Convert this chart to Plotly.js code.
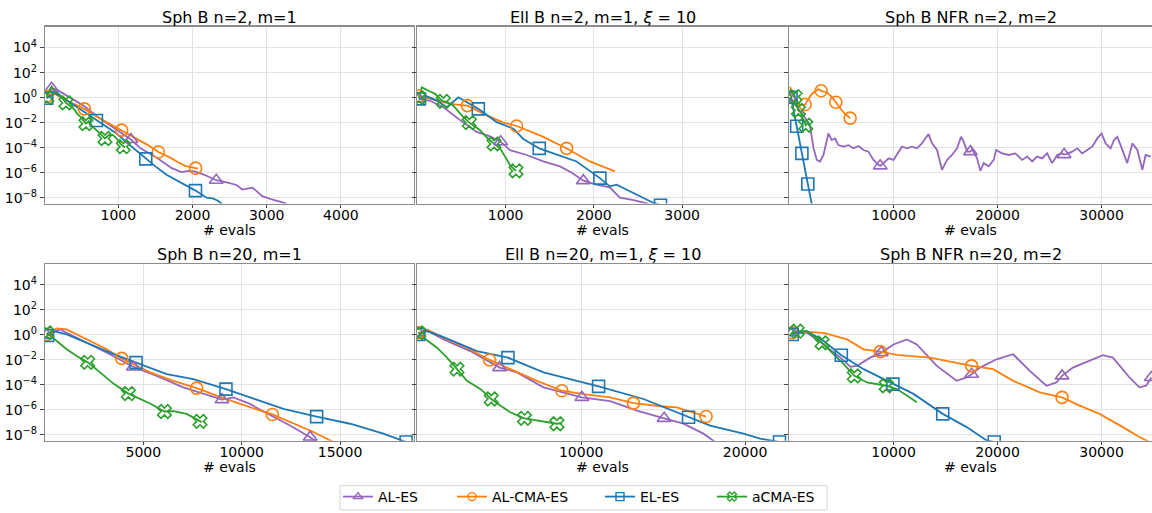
<!DOCTYPE html>
<html><head><meta charset="utf-8">
<script src="https://cdn.plot.ly/plotly-3.0.1.min.js"></script>
<style>html,body{margin:0;padding:0;background:#fff}#chart{width:1152px;height:513px}</style>
</head><body><div id="chart"></div>
<script>
// ---------- labels ----------
const seriesNames = ['AL-ES', 'AL-CMA-ES', 'EL-ES', 'aCMA-ES'];
const panelTitles = ['Sph B n=2, m=1', 'Ell B n=2, m=1, <i>ξ</i> = 10', 'Sph B NFR n=2, m=2',
                     'Sph B n=20, m=1', 'Ell B n=20, m=1, <i>ξ</i> = 10', 'Sph B NFR n=20, m=2'];
const xLabel = '# evals';
const yTickVals = [1e-8, 1e-6, 1e-4, 1e-2, 1e0, 1e2, 1e4];
const yTickText = ['10<sup>−8</sup>', '10<sup>−6</sup>', '10<sup>−4</sup>', '10<sup>−2</sup>', '10<sup>0</sup>', '10<sup>2</sup>', '10<sup>4</sup>'];
const xTicks1 = [1000, 2000, 3000, 4000];
const xTicks2 = [1000, 2000, 3000];
const xTicks3 = [10000, 20000, 30000];
const xTicks4 = [5000, 10000, 15000];
const xTicks5 = [10000, 20000];
const xTicks6 = [10000, 20000, 30000];

// ---------- Panel 1: Sph B n=2, m=1 ----------
const p1_AL_x = [35, 101, 170, 300, 530, 755, 980, 1170, 1300, 1530, 1720, 1850, 1950, 2030, 2160, 2320, 2490, 2600, 2670, 2810, 2940, 3070, 3200, 3270];
const p1_AL_y = [1, 5.6, 4.3, 1.45, 0.23, 0.021, 2.5e-3, 4.5e-4, 8.9e-5, 1.4e-5, 2.3e-6, 1.1e-6, 1.4e-6, 1.26e-6, 6.8e-7, 2.5e-7, 1.5e-7, 1e-7, 4.5e-8, 6.3e-8, 1.35e-8, 7.2e-9, 4.5e-9, 3.2e-9];
const p1_AL_mk = [1, 7, 15];
const p1_CMA_x = [35, 100, 146, 200, 300, 400, 542, 700, 850, 1045, 1200, 1400, 1539, 1700, 1800, 1900, 2042, 2075];
const p1_CMA_y = [1.26, 1.8, 1.95, 1.26, 0.56, 0.32, 0.126, 0.032, 0.01, 2.5e-3, 7.1e-4, 1.6e-4, 4.5e-5, 1.6e-5, 7.1e-6, 3.5e-6, 2.3e-6, 2.2e-6];
const p1_CMA_mk = [0, 6, 9, 12, 16];
const p1_EL_x = [35, 140, 250, 400, 550, 705, 850, 977, 1150, 1370, 1500, 1650, 1850, 2040, 2190, 2270, 2330, 2400];
const p1_EL_y = [0.89, 2.5, 1.0, 0.25, 0.063, 0.015, 4.5e-3, 1.35e-3, 1.7e-4, 1.26e-5, 3.2e-6, 6.8e-7, 1.6e-7, 3.7e-8, 1e-8, 8.9e-9, 6.3e-9, 3.2e-9];
const p1_EL_mk = [0, 5, 9, 13];
const p1_aCMA_x = [35, 60, 101, 130, 180, 230, 295, 340, 400, 450, 500, 564, 600, 650, 708, 760, 820, 870, 930, 980, 1030, 1067, 1090];
const p1_aCMA_y = [1.0, 3.2, 7.9, 4.0, 2.5, 1.26, 0.38, 0.25, 0.126, 0.05, 0.025, 8.3e-3, 0.0126, 5e-3, 2.5e-3, 1.26e-3, 5.4e-4, 1e-3, 1e-3, 5e-4, 2e-4, 1.2e-4, 1e-4];
const p1_aCMA_mk = [0, 6, 11, 16, 21];

// ---------- Panel 2: Ell B n=2, m=1 ----------
const p2_AL_x = [15, 144, 294, 483, 672, 823, 943, 1049, 1238, 1427, 1615, 1750, 1880, 2030, 2180, 2294, 2450, 2560, 2620];
const p2_AL_y = [0.79, 0.56, 0.17, 0.016, 1.8e-3, 7.9e-4, 3.0e-4, 6.3e-5, 2.6e-5, 7.9e-6, 3.2e-6, 1e-6, 2.3e-7, 1.1e-7, 6.8e-8, 1e-8, 6.3e-9, 4e-9, 3.2e-9];
const p2_AL_mk = [0, 6, 12];
const p2_CMA_x = [15, 144, 370, 566, 785, 974, 1124, 1427, 1691, 1955, 2106, 2238];
const p2_CMA_y = [1.41, 0.79, 0.32, 0.23, 0.038, 0.01, 5.4e-3, 7.2e-4, 8.7e-5, 7.9e-6, 3.2e-6, 1.26e-6];
const p2_CMA_mk = [0, 3, 6, 8];
const p2_EL_x = [22, 87, 219, 332, 464, 558, 690, 898, 1087, 1200, 1381, 1540, 1804, 2068, 2181, 2257, 2483, 2672, 2755];
const p2_EL_y = [0.79, 1.45, 0.58, 0.17, 1.07, 0.43, 0.126, 0.011, 3.3e-3, 5e-4, 8.7e-5, 3.5e-5, 7.9e-6, 3.7e-7, 8.1e-8, 1.1e-7, 1.8e-8, 4e-9, 2.5e-9];
const p2_EL_mk = [0, 6, 10, 13, 18];
const p2_aCMA_x = [15, 50, 125, 200, 257, 294, 350, 407, 500, 588, 650, 710, 800, 868, 936, 1000, 1049, 1117];
const p2_aCMA_y = [1.0, 6.6, 3.5, 2.0, 0.79, 0.5, 0.4, 0.23, 0.04, 0.01, 5e-3, 2.5e-3, 5e-4, 2e-4, 8.9e-5, 1.6e-5, 4e-6, 1.4e-6];
const p2_aCMA_mk = [0, 5, 9, 13, 17];

// ---------- Panel 3: Sph B NFR n=2, m=2 ----------
const p3_AL_x = [33, 500, 1000, 1500, 1980, 2300, 2620, 2940, 3260, 3500, 3740, 4060, 4380, 4700, 5190, 5670, 6150, 6630, 7110, 7590, 8070, 8560, 8720, 9040, 9520, 10000, 10480, 10810, 11290, 11770, 12250, 12730, 13050, 13370, 13700, 14180, 14660, 15140, 15620, 16110, 16490, 16740, 17070, 17390, 17550, 18030, 18350, 18670, 19150, 19630, 19860, 20440, 21070, 21720, 22360, 22850, 23330, 23810, 24290, 24770, 25250, 25740, 26220, 26400, 26700, 27180, 27660, 28140, 28620, 29100, 29590, 30000, 30390, 30870, 31190, 31510, 31830, 32150, 32470, 32960, 33440, 33920, 34240, 34720];
const p3_AL_y = [1, 0.32, 0.1, 0.025, 4.6e-3, 1e-4, 1.05e-5, 7.9e-6, 2.6e-5, 2.5e-4, 1.35e-3, 4e-4, 5.4e-4, 1.6e-4, 1.2e-4, 1.6e-4, 8.9e-5, 1.35e-4, 6.5e-5, 4.8e-5, 1.05e-5, 4.2e-6, 3.5e-6, 5.8e-6, 1.4e-5, 1.05e-5, 4.8e-5, 1.2e-4, 8.9e-5, 1.2e-4, 8.9e-5, 2.2e-4, 5.5e-4, 1.2e-3, 2.2e-4, 6.5e-5, 1.7e-6, 1.05e-5, 2.6e-5, 8.9e-5, 7.4e-4, 3e-4, 4.8e-5, 4.8e-5, 7.4e-5, 1.4e-5, 1.4e-6, 5.8e-6, 3.2e-6, 1.05e-5, 6.5e-5, 3.5e-5, 2.6e-5, 3.5e-5, 1.05e-5, 1.95e-5, 7.9e-6, 1.95e-5, 1.4e-5, 3.5e-5, 5.8e-6, 2.6e-5, 3.5e-5, 2.8e-5, 3.2e-5, 4.8e-5, 8.9e-5, 3.5e-5, 6.5e-5, 1.2e-4, 5.5e-4, 1.35e-3, 2.2e-4, 8.9e-5, 4e-4, 7.4e-4, 1.6e-4, 3.5e-5, 5.8e-6, 2.2e-4, 6.5e-5, 1.7e-6, 2.6e-5, 1.95e-5];
const p3_AL_mk = [0, 22, 43, 63];
const p3_CMA_x = [50, 275, 700, 1030, 1500, 2140, 2780, 3040, 3580, 4000, 4450, 5030, 5350, 5830];
const p3_CMA_y = [7.4, 1.95, 0.5, 0.25, 0.28, 1.95, 4.9, 3.5, 2.6, 1.26, 0.43, 0.093, 0.051, 0.023];
const p3_CMA_mk = [4, 7, 10, 13];
const p3_EL_x = [150, 688, 1190, 1760, 2140];
const p3_EL_y = [1.07, 5.1e-3, 3.5e-5, 1.26e-7, 2.9e-9];
const p3_EL_mk = [0, 1, 2, 3];
const p3_aCMA_x = [50, 300, 530, 700, 850, 1100, 1300, 1560, 1800, 1980];
const p3_aCMA_y = [2.0, 3.2, 1.2, 0.4, 0.093, 0.063, 0.016, 6.2e-3, 0.01, 4.6e-3];
const p3_aCMA_mk = [2, 4, 7];

// ---------- Panel 4: Sph B n=20, m=1 ----------
const p4_AL_x = [85, 760, 1950, 3300, 4490, 5680, 7030, 8050, 9000, 9580, 10420, 11270, 12460, 13480, 13820];
const p4_AL_y = [0.95, 2.7, 0.32, 0.028, 2.7e-3, 5.2e-4, 6.3e-5, 1.9e-5, 6.6e-6, 1e-5, 3e-6, 5.4e-7, 5.6e-8, 6.6e-9, 2.7e-9];
const p4_AL_mk = [0, 4, 8, 13];
const p4_CMA_x = [85, 590, 1100, 2290, 3140, 3900, 5340, 6530, 7710, 8730, 9920, 11560, 12630, 13650, 14660];
const p4_CMA_y = [1.07, 3.2, 2.7, 0.32, 0.071, 0.013, 1e-3, 2.1e-4, 5.5e-5, 1.4e-5, 3e-6, 4.3e-7, 7.9e-8, 1.7e-8, 2.7e-9];
const p4_CMA_mk = [0, 5, 8, 11];
const p4_EL_x = [130, 420, 1100, 2290, 3300, 4630, 6190, 7540, 9200, 10420, 12120, 13810, 15510, 17200, 18360];
const p4_EL_y = [0.89, 2.0, 1.07, 0.17, 0.038, 6e-3, 7.1e-4, 2.9e-4, 4.6e-5, 1e-5, 1.2e-6, 2.9e-7, 7.8e-8, 1.26e-8, 2.7e-9];
const p4_EL_mk = [0, 5, 8, 11, 14];
const p4_aCMA_x = [85, 590, 1100, 1610, 2170, 2800, 3475, 4240, 4660, 5340, 6070, 6530, 7200, 7880, 7970];
const p4_aCMA_y = [1.45, 0.32, 0.071, 0.02, 6.3e-3, 1e-3, 1.26e-4, 2e-5, 1e-5, 3.2e-6, 7.4e-7, 7.9e-7, 4.8e-7, 1.2e-7, 1.05e-7];
const p4_aCMA_mk = [0, 4, 7, 10, 13];

// ---------- Panel 5: Ell B n=20, m=1 ----------
const p5_AL_x = [80, 590, 1600, 3230, 5020, 6080, 7700, 10040, 11770, 13400, 15060, 16240, 17460, 18170];
const p5_AL_y = [1.45, 2.2, 0.43, 0.05, 2.4e-3, 1e-3, 6.3e-5, 1e-5, 5e-6, 8.7e-7, 2.1e-7, 7.9e-8, 1.26e-8, 2.7e-9];
const p5_AL_mk = [0, 4, 7, 10];
const p5_CMA_x = [80, 590, 1600, 3030, 4410, 5670, 7300, 8820, 10140, 11770, 13190, 14820, 15830, 17620];
const p5_CMA_y = [1.45, 2.7, 0.58, 0.093, 9.8e-3, 1.8e-3, 2.1e-4, 3.4e-5, 1.8e-5, 1e-5, 3.5e-6, 1.95e-6, 1.6e-6, 2.95e-7];
const p5_CMA_mk = [0, 4, 7, 10, 13];
const p5_EL_x = [80, 590, 1600, 3640, 5530, 7700, 9740, 11060, 13800, 16550, 17870, 19900, 20920, 22100];
const p5_EL_y = [1.07, 2.0, 0.66, 0.05, 0.015, 1e-3, 2.1e-4, 7.6e-5, 7.4e-6, 2.6e-7, 5.6e-8, 1.26e-8, 5e-9, 2.7e-9];
const p5_EL_mk = [0, 4, 7, 9, 13];
const p5_aCMA_x = [80, 385, 1200, 1810, 2420, 3030, 3840, 4510, 5060, 5670, 6540, 7300, 7910, 8520, 8820];
const p5_aCMA_y = [1.45, 0.58, 0.093, 0.015, 1.8e-3, 2.1e-4, 4.7e-5, 7.4e-6, 2.2e-6, 6.5e-7, 2.1e-7, 1.4e-7, 1.05e-7, 7.8e-8, 8.9e-8];
const p5_aCMA_mk = [0, 4, 7, 10, 13];

// ---------- Panel 6: Sph B NFR n=20, m=2 ----------
const p6_AL_x = [260, 1690, 3290, 4890, 5850, 6490, 7760, 8820, 10000, 11280, 12240, 14160, 16070, 17030, 17510, 18310, 19900, 21500, 23100, 24700, 25660, 26200, 27250, 28850, 30130, 31090, 32690, 33640, 34280, 34790];
const p6_AL_y = [1.45, 1.45, 0.17, 0.015, 2.8e-3, 3.3e-3, 0.015, 0.038, 0.17, 0.43, 0.17, 3.3e-3, 2.1e-4, 3.9e-4, 7.1e-4, 2.4e-3, 0.011, 0.028, 1.3e-3, 8.5e-5, 1.55e-4, 5.2e-4, 2.4e-3, 8.1e-3, 0.024, 0.015, 3.9e-4, 6.3e-5, 8.5e-5, 3.9e-4];
const p6_AL_mk = [0, 7, 14, 21, 29];
const p6_CMA_x = [260, 1690, 3290, 5530, 7120, 8720, 10320, 13510, 17030, 17510, 19580, 21500, 24060, 26200, 27890, 29810, 32050, 33640, 34600];
const p6_CMA_y = [1.45, 1.74, 1.45, 0.43, 0.069, 0.045, 0.025, 0.015, 4e-3, 3.3e-3, 1.8e-3, 2.1e-4, 2.5e-5, 1e-5, 2.2e-6, 4.8e-7, 4.2e-8, 6.8e-9, 2.7e-9];
const p6_CMA_mk = [0, 5, 9, 13];
const p6_EL_x = [260, 1690, 3290, 4980, 7120, 9940, 11920, 14730, 17030, 18950, 19680];
const p6_EL_y = [1.07, 1.95, 0.32, 0.023, 1.8e-3, 1.15e-4, 1.9e-5, 4.8e-7, 4.2e-8, 3.6e-9, 2.7e-9];
const p6_EL_mk = [0, 3, 5, 7, 10];
const p6_aCMA_x = [260, 730, 1690, 2330, 3130, 4250, 5210, 6230, 7440, 9300, 10320, 11280, 12240];
const p6_aCMA_y = [1.2, 1.95, 1.95, 0.79, 0.23, 0.028, 4.5e-3, 5.2e-4, 1.55e-4, 8.5e-5, 4.6e-5, 1.4e-5, 4.1e-6];
const p6_aCMA_mk = [1, 4, 7, 9];

// ---------- styling / assembly ----------
const W = 1152, H = 513;
const colors = {AL: '#9467bd', CMA: '#ff7f0e', EL: '#1f77b4', aCMA: '#2ca02c'};
const symbols = {AL: 'triangle-up-open', CMA: 'circle-open', EL: 'square-open', aCMA: 'x-open'};
const keys = ['AL', 'CMA', 'EL', 'aCMA'];
const FONT = 'DejaVu Sans, Verdana, sans-serif';

const panels = [
  {AL: [p1_AL_x, p1_AL_y, p1_AL_mk], CMA: [p1_CMA_x, p1_CMA_y, p1_CMA_mk], EL: [p1_EL_x, p1_EL_y, p1_EL_mk], aCMA: [p1_aCMA_x, p1_aCMA_y, p1_aCMA_mk]},
  {AL: [p2_AL_x, p2_AL_y, p2_AL_mk], CMA: [p2_CMA_x, p2_CMA_y, p2_CMA_mk], EL: [p2_EL_x, p2_EL_y, p2_EL_mk], aCMA: [p2_aCMA_x, p2_aCMA_y, p2_aCMA_mk]},
  {AL: [p3_AL_x, p3_AL_y, p3_AL_mk], CMA: [p3_CMA_x, p3_CMA_y, p3_CMA_mk], EL: [p3_EL_x, p3_EL_y, p3_EL_mk], aCMA: [p3_aCMA_x, p3_aCMA_y, p3_aCMA_mk]},
  {AL: [p4_AL_x, p4_AL_y, p4_AL_mk], CMA: [p4_CMA_x, p4_CMA_y, p4_CMA_mk], EL: [p4_EL_x, p4_EL_y, p4_EL_mk], aCMA: [p4_aCMA_x, p4_aCMA_y, p4_aCMA_mk]},
  {AL: [p5_AL_x, p5_AL_y, p5_AL_mk], CMA: [p5_CMA_x, p5_CMA_y, p5_CMA_mk], EL: [p5_EL_x, p5_EL_y, p5_EL_mk], aCMA: [p5_aCMA_x, p5_aCMA_y, p5_aCMA_mk]},
  {AL: [p6_AL_x, p6_AL_y, p6_AL_mk], CMA: [p6_CMA_x, p6_CMA_y, p6_CMA_mk], EL: [p6_EL_x, p6_EL_y, p6_EL_mk], aCMA: [p6_aCMA_x, p6_aCMA_y, p6_aCMA_mk]}
];
const xTicks = [xTicks1, xTicks2, xTicks3, xTicks4, xTicks5, xTicks6];
const xRanges = [[12, 4985], [-5, 4200], [-50, 34850], [0, 18760], [-20, 22620], [-50, 34850]];
const colPx = [[45, 414], [417, 788], [789, 1152]];
const rowPx = [[27, 206], [267, 446]];
const titleCy = [18, 258];
const xLabelCy = [233, 473];
const yRangeLog = [-8.47, 5.67];
const legendTextPx = [383, 497, 645, 757];
const legendCy = 503;

const traces = [];
const layout = {
  width: W, height: H, margin: {l: 0, r: 0, t: 0, b: 0},
  paper_bgcolor: '#fff', plot_bgcolor: '#fff',
  font: {family: FONT, size: 14, color: '#000'},
  showlegend: true,
  annotations: [],
  shapes: [{type: 'rect', xref: 'paper', yref: 'paper', x0: 340 / W, x1: 827 / W,
            y0: 1 - 491.5 / H, y1: 1 - 516 / H, line: {color: '#d4d4d4', width: 1}, fillcolor: 'rgba(0,0,0,0)', layer: 'below'}]
};

panels.forEach((pan, i) => {
  const p = i + 1;
  const col = i % 3, row = Math.floor(i / 3);
  const xs = p === 1 ? '' : String(p);
  keys.forEach(k => {
    const [x, y] = pan[k];
    traces.push({x: x, y: y, type: 'scatter', mode: 'lines', xaxis: 'x' + xs, yaxis: 'y' + xs,
      line: {color: colors[k], width: 1.8}, showlegend: false, hoverinfo: 'skip'});
  });
  keys.forEach(k => {
    const [x, y, mk] = pan[k];
    traces.push({x: mk.map(j => x[j]), y: mk.map(j => y[j]), type: 'scatter', mode: 'markers',
      xaxis: 'x' + xs, yaxis: 'y' + xs,
      marker: {symbol: symbols[k], size: 12, color: colors[k], line: {width: 1.6, color: colors[k]}},
      showlegend: false, hoverinfo: 'skip'});
  });
  const xd = [colPx[col][0] / W, colPx[col][1] / W];
  const yd = [1 - rowPx[row][1] / H, 1 - rowPx[row][0] / H];
  layout['xaxis' + xs] = {domain: xd, range: xRanges[i], anchor: 'y' + xs,
    tickmode: 'array', tickvals: xTicks[i], ticktext: xTicks[i].map(String),
    ticks: 'outside', ticklen: 3, tickcolor: '#444', ticklabelstandoff: -5,
    showgrid: true, gridcolor: '#e3e3e3', gridwidth: 1, zeroline: false,
    showline: true, mirror: true, linecolor: '#8c8c8c', linewidth: 1.2,
    tickfont: {family: FONT, size: 14, color: '#000'}};
  const yax = {domain: yd, type: 'log', range: yRangeLog, anchor: 'x' + xs,
    tickmode: 'array', tickvals: yTickVals, showticklabels: col === 0,
    ticks: 'outside', ticklen: 4, tickcolor: '#444',
    showgrid: true, gridcolor: '#e3e3e3', gridwidth: 1, zeroline: false,
    showline: true, mirror: true, linecolor: '#8c8c8c', linewidth: 1.2,
    tickfont: {family: FONT, size: 14, color: '#000'}};
  if (col === 0) yax.ticktext = yTickText;
  layout['yaxis' + xs] = yax;
  const xc = (xd[0] + xd[1]) / 2;
  layout.annotations.push({text: panelTitles[i], x: xc, y: 1 - titleCy[row] / H, xref: 'paper', yref: 'paper',
    xanchor: 'center', yanchor: 'middle', showarrow: false,
    font: {family: FONT, size: 16, color: '#000'}});
  layout.annotations.push({text: xLabel, x: xc, y: 1 - xLabelCy[row] / H, xref: 'paper', yref: 'paper',
    xanchor: 'center', yanchor: 'middle', showarrow: false,
    font: {family: FONT, size: 14, color: '#000'}});
});

// legend entries: one small legend per entry, laid out inside one framed box
keys.forEach((k, j) => {
  const lg = j === 0 ? 'legend' : 'legend' + (j + 1);
  traces.push({x: [null], y: [null], type: 'scatter', mode: 'lines+markers', name: seriesNames[j],
    legend: lg, xaxis: 'x', yaxis: 'y', line: {color: colors[k], width: 1.8},
    marker: {symbol: symbols[k], size: 8, color: colors[k], line: {width: 1.4, color: colors[k]}}});
  layout[lg] = {x: (legendTextPx[j] - 45) / W, xanchor: 'left', y: 1 - legendCy / H, yanchor: 'middle',
    bgcolor: 'rgba(0,0,0,0)', borderwidth: 0, orientation: 'h',
    font: {family: FONT, size: 14, color: '#000'}};
});

Plotly.newPlot('chart', traces, layout, {displayModeBar: false, staticPlot: true});
</script></body></html>
